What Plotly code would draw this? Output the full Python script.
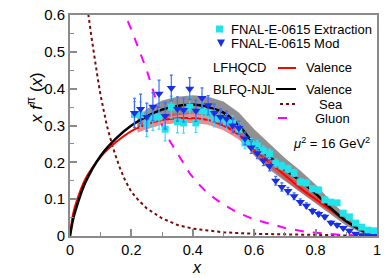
import plotly.graph_objects as go

# ---------------- data ----------------
data_x = [0.21, 0.23, 0.25, 0.27, 0.29, 0.31, 0.33, 0.35, 0.37, 0.39,
          0.41, 0.43, 0.45, 0.47, 0.49, 0.51, 0.53, 0.55, 0.57, 0.59,
          0.61, 0.63, 0.65, 0.67, 0.69, 0.71, 0.73, 0.75, 0.77, 0.79,
          0.81, 0.83, 0.85, 0.87, 0.89, 0.91, 0.93, 0.95, 0.97, 0.99]
extraction_y = [0.330, 0.329, 0.305, 0.320, 0.323, 0.290, 0.350, 0.310, 0.307, 0.350,
                0.307, 0.340, 0.334, 0.318, 0.318, 0.310, 0.307, 0.290, 0.253, 0.250,
                0.245, 0.231, 0.223, 0.198, 0.190, 0.182, 0.171, 0.147, 0.144, 0.128,
                0.125, 0.098, 0.092, 0.090, 0.062, 0.052, 0.035, 0.024, 0.016, 0.014]
extraction_err = [0.035, 0.035, 0.035, 0.033, 0.033, 0.032, 0.030, 0.030, 0.028, 0.028,
                  0.026, 0.025, 0.024, 0.022, 0.021, 0.020, 0.019, 0.018, 0.016, 0.015,
                  0.014, 0.013, 0.012, 0.011, 0.010, 0.010, 0.009, 0.008, 0.008, 0.007,
                  0.007, 0.006, 0.006, 0.005, 0.005, 0.004, 0.004, 0.003, 0.003, 0.002]
mod_y = [0.334, 0.345, 0.323, 0.351, 0.386, 0.326, 0.402, 0.345, 0.342, 0.400,
         0.340, 0.375, 0.355, 0.334, 0.323, 0.318, 0.300, 0.293, 0.265, 0.240,
         0.225, 0.205, 0.190, 0.150, 0.133, 0.122, 0.108, 0.092, 0.082, 0.068,
         0.060, 0.052, 0.036, 0.030, 0.022, 0.014, 0.006, 0.002, 0.000, 0.000]
mod_err = [0.040, 0.040, 0.038, 0.038, 0.037, 0.036, 0.035, 0.033, 0.032, 0.030,
           0.029, 0.027, 0.026, 0.024, 0.022, 0.021, 0.020, 0.018, 0.017, 0.016,
           0.015, 0.014, 0.013, 0.012, 0.011, 0.010, 0.009, 0.009, 0.008, 0.007,
           0.007, 0.006, 0.005, 0.005, 0.004, 0.004, 0.003, 0.003, 0.002, 0.002]

curve_x = [0.0, 0.01, 0.02, 0.05, 0.10, 0.15, 0.20, 0.25, 0.30, 0.35, 0.40, 0.45,
           0.50, 0.55, 0.60, 0.65, 0.70, 0.75, 0.80, 0.85, 0.90, 0.95, 0.98, 1.0]
blfq_valence = [0.0, 0.045, 0.075, 0.145, 0.218, 0.265, 0.300, 0.325, 0.343, 0.353, 0.357, 0.350,
                0.335, 0.300, 0.250, 0.215, 0.180, 0.150, 0.115, 0.075, 0.040, 0.015, 0.004, 0.0]
lfhqcd_valence = [0.0, 0.060, 0.090, 0.155, 0.215, 0.255, 0.285, 0.303, 0.315, 0.320, 0.320, 0.315,
                  0.300, 0.275, 0.235, 0.200, 0.165, 0.130, 0.100, 0.070, 0.040, 0.015, 0.004, 0.0]

band_x = [0.22, 0.25, 0.30, 0.35, 0.40, 0.45, 0.50, 0.55, 0.60, 0.65, 0.70, 0.75,
          0.80, 0.85, 0.90, 0.95, 0.97]
blfq_lo = [0.290, 0.305, 0.318, 0.328, 0.332, 0.325, 0.305, 0.270, 0.218, 0.180, 0.148, 0.120,
           0.090, 0.058, 0.028, 0.008, 0.002]
blfq_hi = [0.320, 0.345, 0.368, 0.378, 0.382, 0.378, 0.365, 0.335, 0.290, 0.250, 0.212, 0.178,
           0.140, 0.095, 0.055, 0.022, 0.008]
lfhqcd_lo = [0.280, 0.290, 0.302, 0.307, 0.307, 0.302, 0.287, 0.262, 0.222, 0.188, 0.153, 0.120,
             0.090, 0.062, 0.034, 0.011, 0.004]
lfhqcd_hi = [0.304, 0.315, 0.328, 0.333, 0.333, 0.328, 0.313, 0.288, 0.248, 0.212, 0.177, 0.140,
             0.110, 0.078, 0.046, 0.019, 0.008]

sea_x = [0.05, 0.06, 0.07, 0.08, 0.09, 0.10, 0.12, 0.14, 0.16, 0.18, 0.20, 0.22, 0.25,
         0.30, 0.35, 0.40, 0.50, 0.60, 0.70, 0.80, 0.90, 1.0]
sea_y = [0.70, 0.60, 0.54, 0.48, 0.43, 0.38, 0.30, 0.24, 0.19, 0.15, 0.12, 0.10, 0.075,
         0.048, 0.030, 0.020, 0.010, 0.006, 0.004, 0.002, 0.001, 0.0]

gluon_x = [0.17, 0.18, 0.20, 0.22, 0.25, 0.28, 0.30, 0.32, 0.36, 0.39, 0.42, 0.45, 0.50,
           0.55, 0.60, 0.66, 0.70, 0.77, 0.88, 1.0]
gluon_y = [0.63, 0.60, 0.56, 0.515, 0.45, 0.37, 0.30, 0.265, 0.21, 0.17, 0.14, 0.115, 0.085,
           0.062, 0.045, 0.030, 0.022, 0.011, 0.003, 0.0]

x_ticks = [0, 0.2, 0.4, 0.6, 0.8, 1]
x_tick_labels = ["0", "0.2", "0.4", "0.6", "0.8", "1"]
y_ticks = [0, 0.1, 0.2, 0.3, 0.4, 0.5, 0.6]
y_tick_labels = ["0", "0.1", "0.2", "0.3", "0.4", "0.5", "0.6"]

# ---------------- figure ----------------
W, H = 386, 278
L, R, T, B = 70, 9, 15, 42
PW, PH = W - L - R, H - T - B
FONT = "Liberation Sans, Arial, sans-serif"

def px(xp):
    return (xp - L) / PW

def py(yp):
    return (H - B - yp) / PH

fig = go.Figure()

# bands
fig.add_trace(go.Scatter(x=band_x + band_x[::-1], y=blfq_hi + blfq_lo[::-1], fill="toself",
                         fillcolor="rgba(125,125,125,0.85)", line=dict(width=0),
                         hoverinfo="skip", showlegend=False))
fig.add_trace(go.Scatter(x=band_x + band_x[::-1], y=lfhqcd_hi + lfhqcd_lo[::-1], fill="toself",
                         fillcolor="rgba(235,60,60,0.6)", line=dict(width=0),
                         hoverinfo="skip", showlegend=False))
# curves
fig.add_trace(go.Scatter(x=sea_x, y=sea_y, mode="lines",
                         line=dict(color="#7a0a0a", width=2, dash="dot"), showlegend=False))
fig.add_trace(go.Scatter(x=gluon_x, y=gluon_y, mode="lines",
                         line=dict(color="#ff00ff", width=2, dash="dash"), showlegend=False))
fig.add_trace(go.Scatter(x=curve_x, y=lfhqcd_valence, mode="lines", line_shape="spline",
                         line=dict(color="#ff0000", width=2), showlegend=False))
fig.add_trace(go.Scatter(x=curve_x, y=blfq_valence, mode="lines", line_shape="spline",
                         line=dict(color="#000000", width=2.5), showlegend=False))
# data
fig.add_trace(go.Scatter(x=data_x, y=extraction_y, mode="markers",
                         marker=dict(symbol="square", size=7, color="#22e3ea"),
                         error_y=dict(type="data", array=extraction_err, color="#3fd7ff",
                                      thickness=1.2, width=1.5),
                         showlegend=False))
fig.add_trace(go.Scatter(x=data_x, y=mod_y, mode="markers",
                         marker=dict(symbol="triangle-down", size=8, color="#1a2ee6"),
                         error_y=dict(type="data", array=mod_err, color="#3d6dff",
                                      thickness=1.2, width=1.5),
                         showlegend=False))

axis_common = dict(showline=True, linecolor="#8a8a8a", linewidth=2, mirror=True,
                   ticks="inside", ticklen=7, tickwidth=1.5, tickcolor="#8a8a8a",
                   showgrid=False, zeroline=False, automargin=False)
fig.update_xaxes(range=[0, 1], tickvals=x_ticks, ticktext=x_tick_labels,
                 tickfont=dict(family=FONT, size=14.5, color="black"),
                 minor=dict(tickvals=[0.1, 0.3, 0.5, 0.7, 0.9], ticks="inside", ticklen=4,
                            tickcolor="#8a8a8a", tickwidth=1.2),
                 **axis_common)
fig.update_yaxes(range=[0, 0.6], tickvals=y_ticks, ticktext=y_tick_labels,
                 tickfont=dict(family=FONT, size=15, color="black"),
                 minor=dict(tickvals=[0.05, 0.15, 0.25, 0.35, 0.45, 0.55], ticks="inside",
                            ticklen=4, tickcolor="#8a8a8a", tickwidth=1.2),
                 **axis_common)

shapes = []
annotations = []

def text(x, y, s, size=13, anchor="left", **kw):
    annotations.append(dict(xref="paper", yref="paper", x=px(x), y=py(y), text=s,
                            showarrow=False, xanchor=anchor, yanchor="middle",
                            font=dict(family=FONT, size=size, color="black"), **kw))

# legend swatches (markers)
shapes.append(dict(type="rect", xref="paper", yref="paper",
                   x0=px(216), x1=px(223), y0=py(32.5), y1=py(25.5),
                   fillcolor="#22e3ea", line=dict(width=0)))
shapes.append(dict(type="path", xref="paper", yref="paper",
                   path=f"M{px(217)},{py(39.5)} L{px(225)},{py(39.5)} L{px(221)},{py(47)} Z",
                   fillcolor="#1a2ee6", line=dict(width=0)))
text(229, 29, "FNAL-E-0615 Extraction")
text(229, 43, "FNAL-E-0615 Mod")
text(211, 67, "LFHQCD")
text(211, 89, "BLFQ-NJL")
text(304, 67, "Valence")
text(304, 89, "Valence")
text(317, 104, "Sea")
text(313, 118, "Gluon")
for (x0, x1, yy, col, dash, w) in [(278, 296, 68, "#ff0000", "solid", 2),
                                   (276, 296, 89, "#000000", "solid", 2),
                                   (280, 296, 104, "#7a0a0a", "dot", 2),
                                   (278, 296, 118, "#ff00ff", "dash", 2)]:
    shapes.append(dict(type="line", xref="paper", yref="paper", x0=px(x0), x1=px(x1),
                       y0=py(yy), y1=py(yy), line=dict(color=col, width=w, dash=dash)))
text(291, 143, "<i>μ</i><sup>2</sup> = 16 GeV<sup>2</sup>")

# axis titles
annotations.append(dict(xref="paper", yref="paper", x=px(197), y=py(267),
                        text="<i>x</i>", showarrow=False, xanchor="center", yanchor="middle",
                        borderpad=0, font=dict(family=FONT, size=16, color="black")))
annotations.append(dict(xref="paper", yref="paper", x=px(35), y=py(98),
                        text="<i>x f</i><sup>π</sup> (<i>x</i>)", textangle=-90,
                        showarrow=False, xanchor="center", yanchor="middle",
                        font=dict(family=FONT, size=17, color="black")))

fig.update_layout(width=W, height=H, margin=dict(l=L, r=R, t=T, b=B),
                  paper_bgcolor="white", plot_bgcolor="white",
                  shapes=shapes, annotations=annotations, showlegend=False)

fig.write_html("out.html", config={"displayModeBar": False},
               post_script="document.body.style.margin='0';")
